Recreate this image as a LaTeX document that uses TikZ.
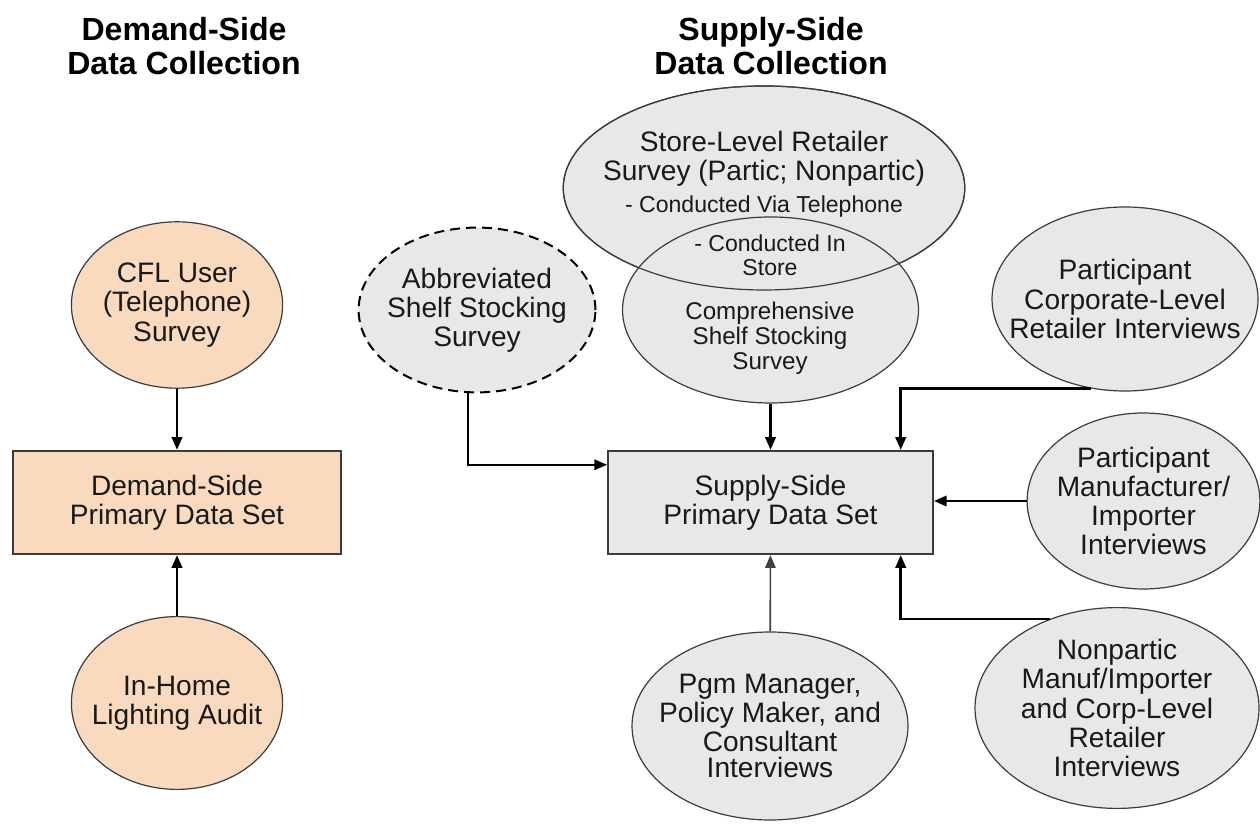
\documentclass[tikz,border=0pt]{standalone}
\usepackage{fontspec}
\setmainfont{Liberation Sans}
\usetikzlibrary{arrows.meta, shapes.geometric, positioning}
\definecolor{demand_fill}{HTML}{FADABE}
\definecolor{supply_fill}{HTML}{E8E8E8}
\definecolor{line_gray}{HTML}{3C3C3C}

\begin{document}
\begin{tikzpicture}[
    x=1.25mm, y=1.25mm,
    txt/.style={align=center, font=\fontsize{10pt}{10.4pt}\selectfont, text=black!90},
    oval/.style={ellipse, draw=line_gray, line width=0.15mm, inner sep=-12mm, txt},
    demandoval/.style={oval, fill=demand_fill},
    supplyoval/.style={oval, fill=supply_fill},
    databox/.style={rectangle, draw=line_gray, line width=0.25mm, txt,
        minimum width=41mm, minimum height=12.9mm},
    title/.style={align=center, font=\fontsize{11.4pt}{11.8pt}\selectfont\bfseries},
    flow/.style={-{Triangle[length=1.6mm, width=1.3mm]}, line width=0.32mm},
    thinflow/.style={flow, line width=0.2mm, black!75}
]
\useasboundingbox (0, 0) rectangle (126, 82.5);

% ===== Titel =====
\node[title] (demandtitle) at (18.4, 77.9) {Demand-Side\\Data Collection};
\node[title] (supplytitle) at (77.1, 77.9) {Supply-Side\\Data Collection};

% ===== Nachfrageseite =====
\node[demandoval, minimum width=26.4mm, minimum height=20.8mm] (cfl) at (17.7, 52.0)
    {CFL User\\(Telephone)\\Survey};
\node[databox, fill=demand_fill] (demand) at (17.7, 32.25)
    {Demand-Side\\Primary Data Set};
\node[demandoval, minimum width=26.4mm, minimum height=21.6mm] (inhome) at (17.7, 12.2)
    {In-Home\\Lighting Audit};

% ===== Angebotsseite =====
\node[supplyoval, draw=black, line width=0.25mm, dash pattern=on 1.25mm off 0.75mm,
    minimum width=29.6mm, minimum height=20.6mm] (abbrev) at (47.7, 51.5)
    {Abbreviated\\Shelf Stocking\\Survey};

% zwei sich ueberlappende Ellipsen: beide Raender bleiben sichtbar
\node[supplyoval, minimum width=50.2mm, minimum height=25.5mm] (store) at (76.4, 63.7) {};
\node[supplyoval, minimum width=37mm, minimum height=23.25mm] (comp) at (77.05, 51.5) {};
\draw[line_gray, line width=0.15mm] (store.center) ellipse [x radius=25.1mm, y radius=12.75mm];
\node[txt] (storetext) at (76.4, 65.1)
    {Store-Level Retailer\\Survey (Partic; Nonpartic)\\[1pt]
     {\fontsize{8.2pt}{9pt}\selectfont - Conducted Via Telephone}};
\node[txt, font=\fontsize{8.2pt}{8.5pt}\selectfont] (instore) at (77.0, 57.0)
    {- Conducted In\\Store};
\node[txt, font=\fontsize{8.6pt}{8.9pt}\selectfont] (comptext) at (77.0, 48.7)
    {Comprehensive\\Shelf Stocking\\Survey};

\node[supplyoval, minimum width=33.25mm, minimum height=23mm] (corp) at (112.5, 52.6)
    {Participant\\Corporate-Level\\Retailer Interviews};
\node[databox, fill=supply_fill, minimum width=40.6mm] (supply) at (77.05, 32.25)
    {Supply-Side\\Primary Data Set};
\node[supplyoval, minimum width=29.1mm, minimum height=22mm] (manuf) at (114.35, 32.4)
    {Participant\\Manufacturer/\\Importer\\Interviews};
\node[supplyoval, minimum width=35.5mm, minimum height=25.1mm] (nonpart) at (111.7, 11.7)
    {Nonpartic\\Manuf/Importer\\and Corp-Level\\Retailer\\Interviews};
\node[supplyoval, minimum width=34.5mm, minimum height=23.5mm,
    font=\fontsize{10pt}{9.1pt}\selectfont] (pgm) at (77.0, 9.9)
    {Pgm Manager,\\Policy Maker, and\\Consultant\\Interviews};

% ===== Pfeile =====
\draw[flow] (cfl) -- (demand);
\draw[flow] (inhome) -- (demand);
\draw[flow, line width=0.25mm] (abbrev.264) |- (supply.167.7);
\draw[flow] (comp) -- (supply);
\draw[flow] (corp.249) -| (supply.22.5);
\draw[flow] (manuf.west) -- (manuf.west -| supply.east);
\draw[flow] (nonpart.127) -| (supply.-22);
\draw[thinflow] (pgm) -- (supply);

\end{tikzpicture}
\end{document}
